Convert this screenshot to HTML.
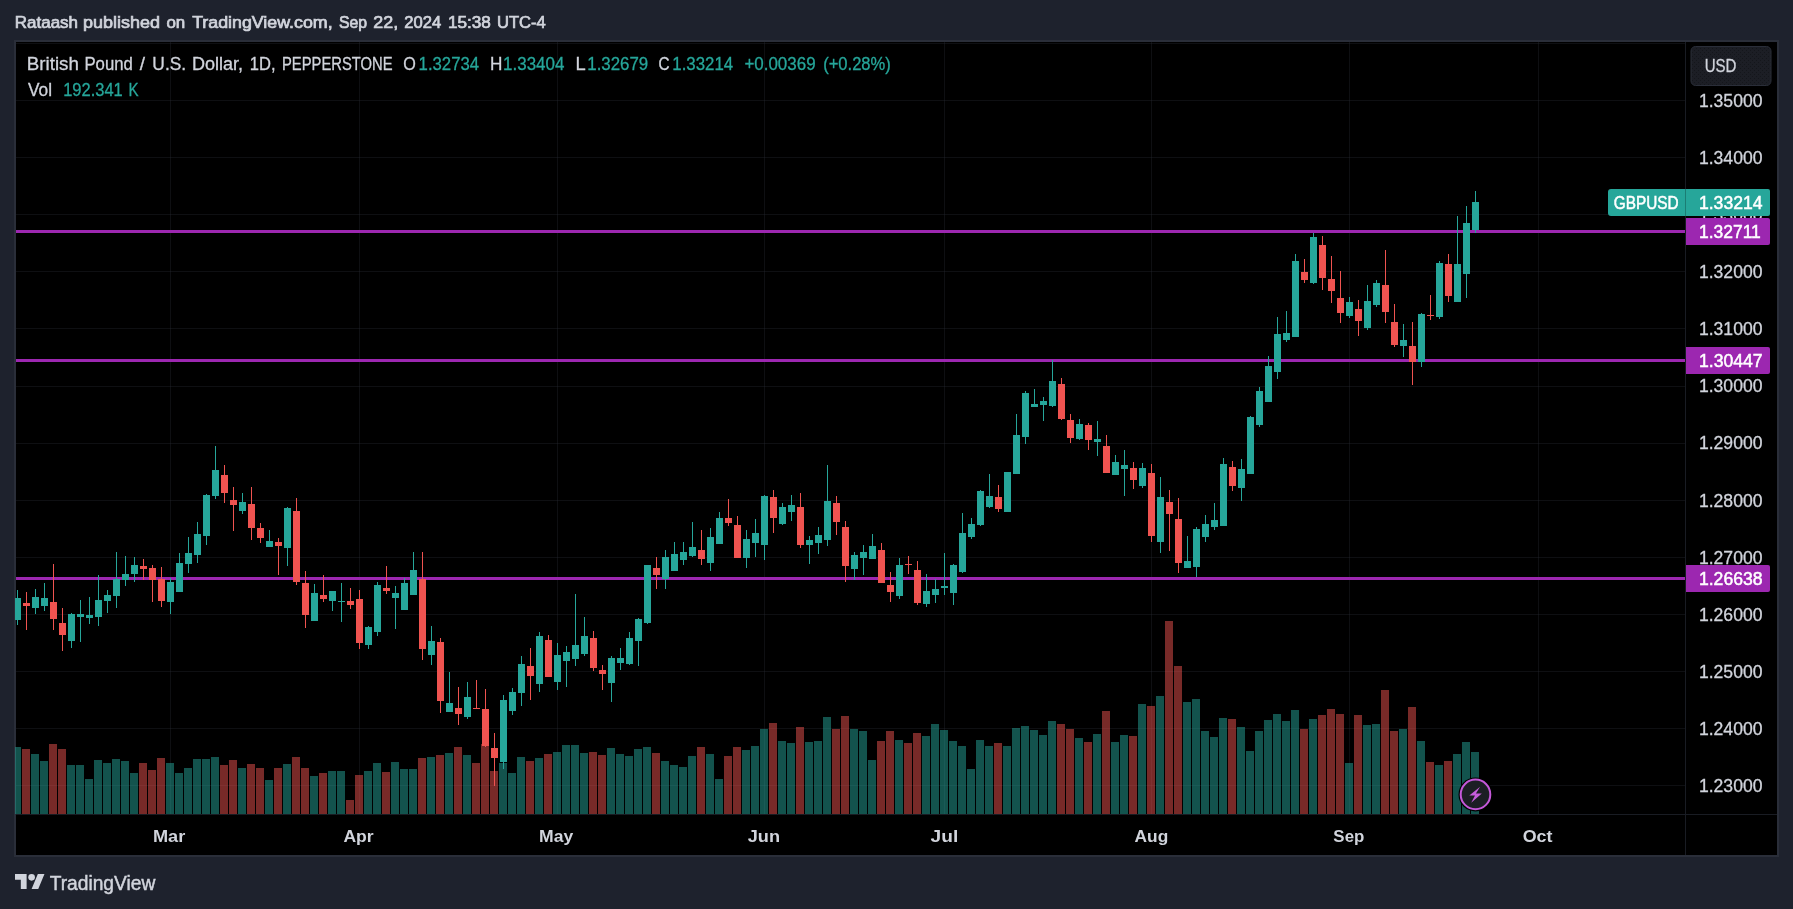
<!DOCTYPE html>
<html><head><meta charset="utf-8"><title>GBPUSD chart</title>
<style>html,body{margin:0;padding:0;background:#1e222d;width:1793px;height:909px;overflow:hidden}</style>
</head><body>
<svg width="1793" height="909" viewBox="0 0 1793 909" style="display:block;position:absolute;left:0;top:0;will-change:transform;transform:translateZ(0)" font-family="'Liberation Sans', Arial, sans-serif">
<rect x="0" y="0" width="1793" height="909" fill="#1e222d"/>
<rect x="14" y="40" width="1765" height="817" fill="#2a2e39" shape-rendering="crispEdges"/>
<rect x="16" y="42" width="1761" height="813" fill="#000" shape-rendering="crispEdges"/>
<g shape-rendering="crispEdges">
<rect x="16" y="43" width="1669" height="1" fill="#2a2e39" opacity="0.32"/>
<rect x="16" y="100" width="1669" height="1" fill="#2a2e39" opacity="0.32"/>
<rect x="16" y="157" width="1669" height="1" fill="#2a2e39" opacity="0.32"/>
<rect x="16" y="214" width="1669" height="1" fill="#2a2e39" opacity="0.32"/>
<rect x="16" y="271" width="1669" height="1" fill="#2a2e39" opacity="0.32"/>
<rect x="16" y="328" width="1669" height="1" fill="#2a2e39" opacity="0.32"/>
<rect x="16" y="386" width="1669" height="1" fill="#2a2e39" opacity="0.32"/>
<rect x="16" y="443" width="1669" height="1" fill="#2a2e39" opacity="0.32"/>
<rect x="16" y="500" width="1669" height="1" fill="#2a2e39" opacity="0.32"/>
<rect x="16" y="557" width="1669" height="1" fill="#2a2e39" opacity="0.32"/>
<rect x="16" y="614" width="1669" height="1" fill="#2a2e39" opacity="0.32"/>
<rect x="16" y="671" width="1669" height="1" fill="#2a2e39" opacity="0.32"/>
<rect x="16" y="728" width="1669" height="1" fill="#2a2e39" opacity="0.32"/>
<rect x="16" y="785" width="1669" height="1" fill="#2a2e39" opacity="0.32"/>
<rect x="170" y="42" width="1" height="772" fill="#2a2e39" opacity="0.32"/>
<rect x="359" y="42" width="1" height="772" fill="#2a2e39" opacity="0.32"/>
<rect x="557" y="42" width="1" height="772" fill="#2a2e39" opacity="0.32"/>
<rect x="764" y="42" width="1" height="772" fill="#2a2e39" opacity="0.32"/>
<rect x="944" y="42" width="1" height="772" fill="#2a2e39" opacity="0.32"/>
<rect x="1151" y="42" width="1" height="772" fill="#2a2e39" opacity="0.32"/>
<rect x="1349" y="42" width="1" height="772" fill="#2a2e39" opacity="0.32"/>
<rect x="1538" y="42" width="1" height="772" fill="#2a2e39" opacity="0.32"/>
<rect x="15" y="747" width="6" height="67" fill="#26a69a" fill-opacity="0.5"/>
<rect x="22" y="749" width="8" height="65" fill="#ef5350" fill-opacity="0.5"/>
<rect x="31" y="754" width="8" height="60" fill="#26a69a" fill-opacity="0.5"/>
<rect x="40" y="761" width="8" height="53" fill="#26a69a" fill-opacity="0.5"/>
<rect x="49" y="744" width="8" height="70" fill="#ef5350" fill-opacity="0.5"/>
<rect x="58" y="749" width="8" height="65" fill="#ef5350" fill-opacity="0.5"/>
<rect x="67" y="765" width="8" height="49" fill="#26a69a" fill-opacity="0.5"/>
<rect x="76" y="765" width="8" height="49" fill="#26a69a" fill-opacity="0.5"/>
<rect x="85" y="779" width="8" height="35" fill="#26a69a" fill-opacity="0.5"/>
<rect x="94" y="760" width="8" height="54" fill="#26a69a" fill-opacity="0.5"/>
<rect x="103" y="763" width="8" height="51" fill="#26a69a" fill-opacity="0.5"/>
<rect x="112" y="759" width="8" height="55" fill="#26a69a" fill-opacity="0.5"/>
<rect x="121" y="761" width="8" height="53" fill="#26a69a" fill-opacity="0.5"/>
<rect x="130" y="773" width="8" height="41" fill="#26a69a" fill-opacity="0.5"/>
<rect x="139" y="763" width="8" height="51" fill="#ef5350" fill-opacity="0.5"/>
<rect x="148" y="770" width="8" height="44" fill="#ef5350" fill-opacity="0.5"/>
<rect x="157" y="758" width="8" height="56" fill="#ef5350" fill-opacity="0.5"/>
<rect x="166" y="763" width="8" height="51" fill="#26a69a" fill-opacity="0.5"/>
<rect x="175" y="773" width="8" height="41" fill="#26a69a" fill-opacity="0.5"/>
<rect x="184" y="768" width="8" height="46" fill="#26a69a" fill-opacity="0.5"/>
<rect x="193" y="759" width="8" height="55" fill="#26a69a" fill-opacity="0.5"/>
<rect x="202" y="759" width="8" height="55" fill="#26a69a" fill-opacity="0.5"/>
<rect x="211" y="757" width="8" height="57" fill="#26a69a" fill-opacity="0.5"/>
<rect x="220" y="765" width="8" height="49" fill="#ef5350" fill-opacity="0.5"/>
<rect x="229" y="760" width="8" height="54" fill="#ef5350" fill-opacity="0.5"/>
<rect x="238" y="768" width="8" height="46" fill="#26a69a" fill-opacity="0.5"/>
<rect x="247" y="764" width="8" height="50" fill="#ef5350" fill-opacity="0.5"/>
<rect x="256" y="768" width="8" height="46" fill="#ef5350" fill-opacity="0.5"/>
<rect x="265" y="780" width="8" height="34" fill="#26a69a" fill-opacity="0.5"/>
<rect x="274" y="768" width="8" height="46" fill="#ef5350" fill-opacity="0.5"/>
<rect x="283" y="764" width="8" height="50" fill="#26a69a" fill-opacity="0.5"/>
<rect x="292" y="757" width="8" height="57" fill="#ef5350" fill-opacity="0.5"/>
<rect x="301" y="768" width="8" height="46" fill="#ef5350" fill-opacity="0.5"/>
<rect x="310" y="776" width="8" height="38" fill="#26a69a" fill-opacity="0.5"/>
<rect x="319" y="773" width="8" height="41" fill="#ef5350" fill-opacity="0.5"/>
<rect x="328" y="771" width="8" height="43" fill="#26a69a" fill-opacity="0.5"/>
<rect x="337" y="771" width="8" height="43" fill="#26a69a" fill-opacity="0.5"/>
<rect x="346" y="800" width="8" height="14" fill="#ef5350" fill-opacity="0.5"/>
<rect x="355" y="775" width="8" height="39" fill="#ef5350" fill-opacity="0.5"/>
<rect x="364" y="771" width="8" height="43" fill="#26a69a" fill-opacity="0.5"/>
<rect x="373" y="763" width="8" height="51" fill="#26a69a" fill-opacity="0.5"/>
<rect x="382" y="772" width="8" height="42" fill="#ef5350" fill-opacity="0.5"/>
<rect x="391" y="762" width="8" height="52" fill="#26a69a" fill-opacity="0.5"/>
<rect x="400" y="769" width="8" height="45" fill="#26a69a" fill-opacity="0.5"/>
<rect x="409" y="769" width="8" height="45" fill="#26a69a" fill-opacity="0.5"/>
<rect x="418" y="758" width="8" height="56" fill="#ef5350" fill-opacity="0.5"/>
<rect x="427" y="757" width="8" height="57" fill="#26a69a" fill-opacity="0.5"/>
<rect x="436" y="755" width="8" height="59" fill="#ef5350" fill-opacity="0.5"/>
<rect x="445" y="753" width="8" height="61" fill="#26a69a" fill-opacity="0.5"/>
<rect x="454" y="747" width="8" height="67" fill="#ef5350" fill-opacity="0.5"/>
<rect x="463" y="755" width="8" height="59" fill="#26a69a" fill-opacity="0.5"/>
<rect x="472" y="763" width="8" height="51" fill="#ef5350" fill-opacity="0.5"/>
<rect x="481" y="744" width="8" height="70" fill="#ef5350" fill-opacity="0.5"/>
<rect x="490" y="771" width="8" height="43" fill="#ef5350" fill-opacity="0.5"/>
<rect x="499" y="763" width="8" height="51" fill="#26a69a" fill-opacity="0.5"/>
<rect x="508" y="773" width="8" height="41" fill="#26a69a" fill-opacity="0.5"/>
<rect x="517" y="757" width="8" height="57" fill="#26a69a" fill-opacity="0.5"/>
<rect x="526" y="761" width="8" height="53" fill="#ef5350" fill-opacity="0.5"/>
<rect x="535" y="758" width="8" height="56" fill="#26a69a" fill-opacity="0.5"/>
<rect x="544" y="754" width="8" height="60" fill="#ef5350" fill-opacity="0.5"/>
<rect x="553" y="752" width="8" height="62" fill="#26a69a" fill-opacity="0.5"/>
<rect x="562" y="745" width="8" height="69" fill="#26a69a" fill-opacity="0.5"/>
<rect x="571" y="745" width="8" height="69" fill="#26a69a" fill-opacity="0.5"/>
<rect x="580" y="753" width="8" height="61" fill="#26a69a" fill-opacity="0.5"/>
<rect x="589" y="752" width="8" height="62" fill="#ef5350" fill-opacity="0.5"/>
<rect x="598" y="755" width="8" height="59" fill="#ef5350" fill-opacity="0.5"/>
<rect x="607" y="748" width="8" height="66" fill="#26a69a" fill-opacity="0.5"/>
<rect x="616" y="754" width="8" height="60" fill="#26a69a" fill-opacity="0.5"/>
<rect x="625" y="756" width="8" height="58" fill="#26a69a" fill-opacity="0.5"/>
<rect x="634" y="749" width="8" height="65" fill="#26a69a" fill-opacity="0.5"/>
<rect x="643" y="747" width="8" height="67" fill="#26a69a" fill-opacity="0.5"/>
<rect x="652" y="753" width="8" height="61" fill="#ef5350" fill-opacity="0.5"/>
<rect x="661" y="761" width="8" height="53" fill="#26a69a" fill-opacity="0.5"/>
<rect x="670" y="765" width="8" height="49" fill="#26a69a" fill-opacity="0.5"/>
<rect x="679" y="767" width="8" height="47" fill="#26a69a" fill-opacity="0.5"/>
<rect x="688" y="756" width="8" height="58" fill="#26a69a" fill-opacity="0.5"/>
<rect x="697" y="747" width="8" height="67" fill="#ef5350" fill-opacity="0.5"/>
<rect x="706" y="754" width="8" height="60" fill="#26a69a" fill-opacity="0.5"/>
<rect x="715" y="779" width="8" height="35" fill="#26a69a" fill-opacity="0.5"/>
<rect x="724" y="756" width="8" height="58" fill="#ef5350" fill-opacity="0.5"/>
<rect x="733" y="747" width="8" height="67" fill="#ef5350" fill-opacity="0.5"/>
<rect x="742" y="750" width="8" height="64" fill="#26a69a" fill-opacity="0.5"/>
<rect x="751" y="746" width="8" height="68" fill="#26a69a" fill-opacity="0.5"/>
<rect x="760" y="729" width="8" height="85" fill="#26a69a" fill-opacity="0.5"/>
<rect x="769" y="723" width="8" height="91" fill="#ef5350" fill-opacity="0.5"/>
<rect x="778" y="741" width="8" height="73" fill="#26a69a" fill-opacity="0.5"/>
<rect x="787" y="743" width="8" height="71" fill="#26a69a" fill-opacity="0.5"/>
<rect x="796" y="727" width="8" height="87" fill="#ef5350" fill-opacity="0.5"/>
<rect x="805" y="742" width="8" height="72" fill="#26a69a" fill-opacity="0.5"/>
<rect x="814" y="741" width="8" height="73" fill="#26a69a" fill-opacity="0.5"/>
<rect x="823" y="717" width="8" height="97" fill="#26a69a" fill-opacity="0.5"/>
<rect x="832" y="729" width="8" height="85" fill="#ef5350" fill-opacity="0.5"/>
<rect x="841" y="716" width="8" height="98" fill="#ef5350" fill-opacity="0.5"/>
<rect x="850" y="729" width="8" height="85" fill="#26a69a" fill-opacity="0.5"/>
<rect x="859" y="731" width="8" height="83" fill="#26a69a" fill-opacity="0.5"/>
<rect x="868" y="760" width="8" height="54" fill="#26a69a" fill-opacity="0.5"/>
<rect x="877" y="741" width="8" height="73" fill="#ef5350" fill-opacity="0.5"/>
<rect x="886" y="731" width="8" height="83" fill="#ef5350" fill-opacity="0.5"/>
<rect x="895" y="740" width="8" height="74" fill="#26a69a" fill-opacity="0.5"/>
<rect x="904" y="743" width="8" height="71" fill="#ef5350" fill-opacity="0.5"/>
<rect x="913" y="733" width="8" height="81" fill="#ef5350" fill-opacity="0.5"/>
<rect x="922" y="736" width="8" height="78" fill="#26a69a" fill-opacity="0.5"/>
<rect x="931" y="724" width="8" height="90" fill="#26a69a" fill-opacity="0.5"/>
<rect x="940" y="730" width="8" height="84" fill="#26a69a" fill-opacity="0.5"/>
<rect x="949" y="741" width="8" height="73" fill="#26a69a" fill-opacity="0.5"/>
<rect x="958" y="746" width="8" height="68" fill="#26a69a" fill-opacity="0.5"/>
<rect x="967" y="769" width="8" height="45" fill="#26a69a" fill-opacity="0.5"/>
<rect x="976" y="740" width="8" height="74" fill="#26a69a" fill-opacity="0.5"/>
<rect x="985" y="746" width="8" height="68" fill="#26a69a" fill-opacity="0.5"/>
<rect x="994" y="743" width="8" height="71" fill="#ef5350" fill-opacity="0.5"/>
<rect x="1003" y="746" width="8" height="68" fill="#26a69a" fill-opacity="0.5"/>
<rect x="1012" y="728" width="8" height="86" fill="#26a69a" fill-opacity="0.5"/>
<rect x="1021" y="726" width="8" height="88" fill="#26a69a" fill-opacity="0.5"/>
<rect x="1030" y="730" width="8" height="84" fill="#26a69a" fill-opacity="0.5"/>
<rect x="1039" y="735" width="8" height="79" fill="#26a69a" fill-opacity="0.5"/>
<rect x="1048" y="721" width="8" height="93" fill="#26a69a" fill-opacity="0.5"/>
<rect x="1057" y="724" width="8" height="90" fill="#ef5350" fill-opacity="0.5"/>
<rect x="1066" y="729" width="8" height="85" fill="#ef5350" fill-opacity="0.5"/>
<rect x="1075" y="738" width="8" height="76" fill="#26a69a" fill-opacity="0.5"/>
<rect x="1084" y="742" width="8" height="72" fill="#ef5350" fill-opacity="0.5"/>
<rect x="1093" y="734" width="8" height="80" fill="#26a69a" fill-opacity="0.5"/>
<rect x="1102" y="711" width="8" height="103" fill="#ef5350" fill-opacity="0.5"/>
<rect x="1111" y="742" width="8" height="72" fill="#26a69a" fill-opacity="0.5"/>
<rect x="1120" y="735" width="8" height="79" fill="#26a69a" fill-opacity="0.5"/>
<rect x="1129" y="736" width="8" height="78" fill="#ef5350" fill-opacity="0.5"/>
<rect x="1138" y="704" width="8" height="110" fill="#26a69a" fill-opacity="0.5"/>
<rect x="1147" y="706" width="8" height="108" fill="#ef5350" fill-opacity="0.5"/>
<rect x="1156" y="696" width="8" height="118" fill="#26a69a" fill-opacity="0.5"/>
<rect x="1165" y="621" width="8" height="193" fill="#ef5350" fill-opacity="0.5"/>
<rect x="1174" y="666" width="8" height="148" fill="#ef5350" fill-opacity="0.5"/>
<rect x="1183" y="702" width="8" height="112" fill="#26a69a" fill-opacity="0.5"/>
<rect x="1192" y="699" width="8" height="115" fill="#26a69a" fill-opacity="0.5"/>
<rect x="1201" y="731" width="8" height="83" fill="#26a69a" fill-opacity="0.5"/>
<rect x="1210" y="737" width="8" height="77" fill="#26a69a" fill-opacity="0.5"/>
<rect x="1219" y="718" width="8" height="96" fill="#26a69a" fill-opacity="0.5"/>
<rect x="1228" y="719" width="8" height="95" fill="#ef5350" fill-opacity="0.5"/>
<rect x="1237" y="727" width="8" height="87" fill="#26a69a" fill-opacity="0.5"/>
<rect x="1246" y="751" width="8" height="63" fill="#26a69a" fill-opacity="0.5"/>
<rect x="1255" y="731" width="8" height="83" fill="#26a69a" fill-opacity="0.5"/>
<rect x="1264" y="720" width="8" height="94" fill="#26a69a" fill-opacity="0.5"/>
<rect x="1273" y="714" width="8" height="100" fill="#26a69a" fill-opacity="0.5"/>
<rect x="1282" y="721" width="8" height="93" fill="#26a69a" fill-opacity="0.5"/>
<rect x="1291" y="710" width="8" height="104" fill="#26a69a" fill-opacity="0.5"/>
<rect x="1300" y="729" width="8" height="85" fill="#ef5350" fill-opacity="0.5"/>
<rect x="1309" y="719" width="8" height="95" fill="#26a69a" fill-opacity="0.5"/>
<rect x="1318" y="715" width="8" height="99" fill="#ef5350" fill-opacity="0.5"/>
<rect x="1327" y="709" width="8" height="105" fill="#ef5350" fill-opacity="0.5"/>
<rect x="1336" y="714" width="8" height="100" fill="#ef5350" fill-opacity="0.5"/>
<rect x="1345" y="763" width="8" height="51" fill="#26a69a" fill-opacity="0.5"/>
<rect x="1354" y="715" width="8" height="99" fill="#ef5350" fill-opacity="0.5"/>
<rect x="1363" y="725" width="8" height="89" fill="#26a69a" fill-opacity="0.5"/>
<rect x="1372" y="724" width="8" height="90" fill="#26a69a" fill-opacity="0.5"/>
<rect x="1381" y="690" width="8" height="124" fill="#ef5350" fill-opacity="0.5"/>
<rect x="1390" y="731" width="8" height="83" fill="#ef5350" fill-opacity="0.5"/>
<rect x="1399" y="729" width="8" height="85" fill="#26a69a" fill-opacity="0.5"/>
<rect x="1408" y="707" width="8" height="107" fill="#ef5350" fill-opacity="0.5"/>
<rect x="1417" y="741" width="8" height="73" fill="#26a69a" fill-opacity="0.5"/>
<rect x="1426" y="762" width="8" height="52" fill="#ef5350" fill-opacity="0.5"/>
<rect x="1435" y="765" width="8" height="49" fill="#26a69a" fill-opacity="0.5"/>
<rect x="1444" y="761" width="8" height="53" fill="#ef5350" fill-opacity="0.5"/>
<rect x="1453" y="754" width="8" height="60" fill="#26a69a" fill-opacity="0.5"/>
<rect x="1462" y="742" width="8" height="72" fill="#26a69a" fill-opacity="0.5"/>
<rect x="1471" y="752" width="8" height="62" fill="#26a69a" fill-opacity="0.5"/>
<rect x="16" y="230" width="1669" height="3" fill="#9c27b0"/>
<rect x="16" y="359" width="1669" height="3" fill="#9c27b0"/>
<rect x="16" y="577" width="1669" height="3" fill="#9c27b0"/>
<rect x="17" y="590" width="1" height="35" fill="#26a69a"/>
<rect x="15" y="598" width="6" height="22" fill="#26a69a"/>
<rect x="26" y="592" width="1" height="38" fill="#ef5350"/>
<rect x="23" y="603" width="7" height="3" fill="#ef5350"/>
<rect x="35" y="589" width="1" height="25" fill="#26a69a"/>
<rect x="32" y="597" width="7" height="11" fill="#26a69a"/>
<rect x="44" y="583" width="1" height="28" fill="#26a69a"/>
<rect x="41" y="598" width="7" height="8" fill="#26a69a"/>
<rect x="53" y="564" width="1" height="66" fill="#ef5350"/>
<rect x="50" y="602" width="7" height="17" fill="#ef5350"/>
<rect x="62" y="608" width="1" height="43" fill="#ef5350"/>
<rect x="59" y="623" width="7" height="12" fill="#ef5350"/>
<rect x="71" y="613" width="1" height="35" fill="#26a69a"/>
<rect x="68" y="614" width="7" height="27" fill="#26a69a"/>
<rect x="80" y="600" width="1" height="42" fill="#26a69a"/>
<rect x="77" y="614" width="7" height="3" fill="#26a69a"/>
<rect x="89" y="597" width="1" height="27" fill="#26a69a"/>
<rect x="86" y="615" width="7" height="3" fill="#26a69a"/>
<rect x="98" y="575" width="1" height="51" fill="#26a69a"/>
<rect x="95" y="600" width="7" height="17" fill="#26a69a"/>
<rect x="107" y="590" width="1" height="23" fill="#26a69a"/>
<rect x="104" y="595" width="7" height="6" fill="#26a69a"/>
<rect x="116" y="552" width="1" height="56" fill="#26a69a"/>
<rect x="113" y="579" width="7" height="17" fill="#26a69a"/>
<rect x="125" y="556" width="1" height="30" fill="#26a69a"/>
<rect x="122" y="574" width="7" height="6" fill="#26a69a"/>
<rect x="134" y="557" width="1" height="25" fill="#26a69a"/>
<rect x="131" y="565" width="7" height="9" fill="#26a69a"/>
<rect x="143" y="559" width="1" height="21" fill="#ef5350"/>
<rect x="140" y="566" width="7" height="3" fill="#ef5350"/>
<rect x="152" y="565" width="1" height="37" fill="#ef5350"/>
<rect x="149" y="568" width="7" height="12" fill="#ef5350"/>
<rect x="161" y="567" width="1" height="40" fill="#ef5350"/>
<rect x="158" y="579" width="7" height="22" fill="#ef5350"/>
<rect x="170" y="578" width="1" height="36" fill="#26a69a"/>
<rect x="167" y="582" width="7" height="20" fill="#26a69a"/>
<rect x="179" y="553" width="1" height="39" fill="#26a69a"/>
<rect x="176" y="563" width="7" height="29" fill="#26a69a"/>
<rect x="188" y="537" width="1" height="36" fill="#26a69a"/>
<rect x="185" y="553" width="7" height="11" fill="#26a69a"/>
<rect x="197" y="522" width="1" height="41" fill="#26a69a"/>
<rect x="194" y="534" width="7" height="21" fill="#26a69a"/>
<rect x="206" y="494" width="1" height="51" fill="#26a69a"/>
<rect x="203" y="495" width="7" height="41" fill="#26a69a"/>
<rect x="215" y="446" width="1" height="53" fill="#26a69a"/>
<rect x="212" y="470" width="7" height="26" fill="#26a69a"/>
<rect x="224" y="465" width="1" height="38" fill="#ef5350"/>
<rect x="221" y="475" width="7" height="18" fill="#ef5350"/>
<rect x="233" y="487" width="1" height="44" fill="#ef5350"/>
<rect x="230" y="500" width="7" height="5" fill="#ef5350"/>
<rect x="242" y="493" width="1" height="21" fill="#26a69a"/>
<rect x="239" y="502" width="7" height="9" fill="#26a69a"/>
<rect x="251" y="487" width="1" height="53" fill="#ef5350"/>
<rect x="248" y="504" width="7" height="24" fill="#ef5350"/>
<rect x="260" y="523" width="1" height="20" fill="#ef5350"/>
<rect x="257" y="528" width="7" height="10" fill="#ef5350"/>
<rect x="269" y="530" width="1" height="17" fill="#26a69a"/>
<rect x="266" y="541" width="7" height="6" fill="#26a69a"/>
<rect x="278" y="538" width="1" height="37" fill="#ef5350"/>
<rect x="275" y="542" width="7" height="4" fill="#ef5350"/>
<rect x="287" y="507" width="1" height="59" fill="#26a69a"/>
<rect x="284" y="508" width="7" height="40" fill="#26a69a"/>
<rect x="296" y="498" width="1" height="87" fill="#ef5350"/>
<rect x="293" y="511" width="7" height="71" fill="#ef5350"/>
<rect x="305" y="571" width="1" height="57" fill="#ef5350"/>
<rect x="302" y="583" width="7" height="32" fill="#ef5350"/>
<rect x="314" y="584" width="1" height="37" fill="#26a69a"/>
<rect x="311" y="593" width="7" height="28" fill="#26a69a"/>
<rect x="323" y="575" width="1" height="27" fill="#ef5350"/>
<rect x="320" y="595" width="7" height="4" fill="#ef5350"/>
<rect x="332" y="591" width="1" height="20" fill="#26a69a"/>
<rect x="329" y="591" width="7" height="10" fill="#26a69a"/>
<rect x="341" y="583" width="1" height="39" fill="#26a69a"/>
<rect x="338" y="601" width="7" height="1" fill="#26a69a"/>
<rect x="350" y="588" width="1" height="21" fill="#ef5350"/>
<rect x="347" y="601" width="7" height="4" fill="#ef5350"/>
<rect x="359" y="590" width="1" height="59" fill="#ef5350"/>
<rect x="356" y="599" width="7" height="44" fill="#ef5350"/>
<rect x="368" y="626" width="1" height="23" fill="#26a69a"/>
<rect x="365" y="627" width="7" height="18" fill="#26a69a"/>
<rect x="377" y="582" width="1" height="54" fill="#26a69a"/>
<rect x="374" y="585" width="7" height="47" fill="#26a69a"/>
<rect x="386" y="566" width="1" height="28" fill="#ef5350"/>
<rect x="383" y="588" width="7" height="3" fill="#ef5350"/>
<rect x="395" y="586" width="1" height="43" fill="#26a69a"/>
<rect x="392" y="593" width="7" height="5" fill="#26a69a"/>
<rect x="404" y="578" width="1" height="32" fill="#26a69a"/>
<rect x="401" y="583" width="7" height="27" fill="#26a69a"/>
<rect x="413" y="552" width="1" height="43" fill="#26a69a"/>
<rect x="410" y="570" width="7" height="25" fill="#26a69a"/>
<rect x="422" y="552" width="1" height="108" fill="#ef5350"/>
<rect x="419" y="579" width="7" height="70" fill="#ef5350"/>
<rect x="431" y="626" width="1" height="39" fill="#26a69a"/>
<rect x="428" y="641" width="7" height="14" fill="#26a69a"/>
<rect x="440" y="638" width="1" height="75" fill="#ef5350"/>
<rect x="437" y="642" width="7" height="59" fill="#ef5350"/>
<rect x="449" y="672" width="1" height="40" fill="#26a69a"/>
<rect x="446" y="703" width="7" height="9" fill="#26a69a"/>
<rect x="458" y="687" width="1" height="38" fill="#ef5350"/>
<rect x="455" y="708" width="7" height="6" fill="#ef5350"/>
<rect x="467" y="682" width="1" height="37" fill="#26a69a"/>
<rect x="464" y="697" width="7" height="20" fill="#26a69a"/>
<rect x="476" y="680" width="1" height="29" fill="#ef5350"/>
<rect x="473" y="708" width="7" height="1" fill="#ef5350"/>
<rect x="485" y="689" width="1" height="58" fill="#ef5350"/>
<rect x="482" y="709" width="7" height="37" fill="#ef5350"/>
<rect x="494" y="733" width="1" height="53" fill="#ef5350"/>
<rect x="491" y="748" width="7" height="10" fill="#ef5350"/>
<rect x="503" y="695" width="1" height="74" fill="#26a69a"/>
<rect x="500" y="700" width="7" height="62" fill="#26a69a"/>
<rect x="512" y="688" width="1" height="27" fill="#26a69a"/>
<rect x="509" y="692" width="7" height="19" fill="#26a69a"/>
<rect x="521" y="656" width="1" height="50" fill="#26a69a"/>
<rect x="518" y="664" width="7" height="29" fill="#26a69a"/>
<rect x="530" y="648" width="1" height="52" fill="#ef5350"/>
<rect x="527" y="666" width="7" height="10" fill="#ef5350"/>
<rect x="539" y="632" width="1" height="60" fill="#26a69a"/>
<rect x="536" y="636" width="7" height="48" fill="#26a69a"/>
<rect x="548" y="635" width="1" height="42" fill="#ef5350"/>
<rect x="545" y="640" width="7" height="37" fill="#ef5350"/>
<rect x="557" y="643" width="1" height="47" fill="#26a69a"/>
<rect x="554" y="655" width="7" height="27" fill="#26a69a"/>
<rect x="566" y="646" width="1" height="41" fill="#26a69a"/>
<rect x="563" y="652" width="7" height="9" fill="#26a69a"/>
<rect x="575" y="594" width="1" height="72" fill="#26a69a"/>
<rect x="572" y="645" width="7" height="14" fill="#26a69a"/>
<rect x="584" y="617" width="1" height="39" fill="#26a69a"/>
<rect x="581" y="636" width="7" height="18" fill="#26a69a"/>
<rect x="593" y="631" width="1" height="40" fill="#ef5350"/>
<rect x="590" y="638" width="7" height="30" fill="#ef5350"/>
<rect x="602" y="665" width="1" height="25" fill="#ef5350"/>
<rect x="599" y="670" width="7" height="4" fill="#ef5350"/>
<rect x="611" y="656" width="1" height="46" fill="#26a69a"/>
<rect x="608" y="658" width="7" height="25" fill="#26a69a"/>
<rect x="620" y="648" width="1" height="22" fill="#26a69a"/>
<rect x="617" y="658" width="7" height="5" fill="#26a69a"/>
<rect x="629" y="632" width="1" height="33" fill="#26a69a"/>
<rect x="626" y="638" width="7" height="26" fill="#26a69a"/>
<rect x="638" y="618" width="1" height="48" fill="#26a69a"/>
<rect x="635" y="619" width="7" height="22" fill="#26a69a"/>
<rect x="647" y="565" width="1" height="59" fill="#26a69a"/>
<rect x="644" y="565" width="7" height="58" fill="#26a69a"/>
<rect x="656" y="557" width="1" height="32" fill="#ef5350"/>
<rect x="653" y="568" width="7" height="7" fill="#ef5350"/>
<rect x="665" y="550" width="1" height="39" fill="#26a69a"/>
<rect x="662" y="557" width="7" height="22" fill="#26a69a"/>
<rect x="674" y="542" width="1" height="29" fill="#26a69a"/>
<rect x="671" y="554" width="7" height="17" fill="#26a69a"/>
<rect x="683" y="542" width="1" height="23" fill="#26a69a"/>
<rect x="680" y="552" width="7" height="8" fill="#26a69a"/>
<rect x="692" y="522" width="1" height="35" fill="#26a69a"/>
<rect x="689" y="547" width="7" height="9" fill="#26a69a"/>
<rect x="701" y="530" width="1" height="35" fill="#ef5350"/>
<rect x="698" y="550" width="7" height="9" fill="#ef5350"/>
<rect x="710" y="528" width="1" height="43" fill="#26a69a"/>
<rect x="707" y="537" width="7" height="26" fill="#26a69a"/>
<rect x="719" y="512" width="1" height="32" fill="#26a69a"/>
<rect x="716" y="518" width="7" height="26" fill="#26a69a"/>
<rect x="728" y="499" width="1" height="27" fill="#ef5350"/>
<rect x="725" y="518" width="7" height="5" fill="#ef5350"/>
<rect x="737" y="516" width="1" height="42" fill="#ef5350"/>
<rect x="734" y="525" width="7" height="33" fill="#ef5350"/>
<rect x="746" y="530" width="1" height="38" fill="#26a69a"/>
<rect x="743" y="539" width="7" height="19" fill="#26a69a"/>
<rect x="755" y="519" width="1" height="38" fill="#26a69a"/>
<rect x="752" y="533" width="7" height="10" fill="#26a69a"/>
<rect x="764" y="495" width="1" height="65" fill="#26a69a"/>
<rect x="761" y="496" width="7" height="49" fill="#26a69a"/>
<rect x="773" y="490" width="1" height="43" fill="#ef5350"/>
<rect x="770" y="497" width="7" height="21" fill="#ef5350"/>
<rect x="782" y="503" width="1" height="22" fill="#26a69a"/>
<rect x="779" y="507" width="7" height="17" fill="#26a69a"/>
<rect x="791" y="495" width="1" height="26" fill="#26a69a"/>
<rect x="788" y="505" width="7" height="7" fill="#26a69a"/>
<rect x="800" y="493" width="1" height="55" fill="#ef5350"/>
<rect x="797" y="507" width="7" height="38" fill="#ef5350"/>
<rect x="809" y="536" width="1" height="28" fill="#26a69a"/>
<rect x="806" y="540" width="7" height="5" fill="#26a69a"/>
<rect x="818" y="527" width="1" height="27" fill="#26a69a"/>
<rect x="815" y="535" width="7" height="8" fill="#26a69a"/>
<rect x="827" y="465" width="1" height="81" fill="#26a69a"/>
<rect x="824" y="501" width="7" height="39" fill="#26a69a"/>
<rect x="836" y="496" width="1" height="39" fill="#ef5350"/>
<rect x="833" y="503" width="7" height="19" fill="#ef5350"/>
<rect x="845" y="521" width="1" height="61" fill="#ef5350"/>
<rect x="842" y="527" width="7" height="39" fill="#ef5350"/>
<rect x="854" y="552" width="1" height="28" fill="#26a69a"/>
<rect x="851" y="555" width="7" height="14" fill="#26a69a"/>
<rect x="863" y="545" width="1" height="30" fill="#26a69a"/>
<rect x="860" y="552" width="7" height="6" fill="#26a69a"/>
<rect x="872" y="534" width="1" height="25" fill="#26a69a"/>
<rect x="869" y="546" width="7" height="13" fill="#26a69a"/>
<rect x="881" y="543" width="1" height="40" fill="#ef5350"/>
<rect x="878" y="550" width="7" height="33" fill="#ef5350"/>
<rect x="890" y="572" width="1" height="30" fill="#ef5350"/>
<rect x="887" y="585" width="7" height="7" fill="#ef5350"/>
<rect x="899" y="558" width="1" height="41" fill="#26a69a"/>
<rect x="896" y="565" width="7" height="31" fill="#26a69a"/>
<rect x="908" y="556" width="1" height="18" fill="#ef5350"/>
<rect x="905" y="564" width="7" height="1" fill="#ef5350"/>
<rect x="917" y="561" width="1" height="44" fill="#ef5350"/>
<rect x="914" y="570" width="7" height="33" fill="#ef5350"/>
<rect x="926" y="574" width="1" height="33" fill="#26a69a"/>
<rect x="923" y="591" width="7" height="13" fill="#26a69a"/>
<rect x="935" y="579" width="1" height="24" fill="#26a69a"/>
<rect x="932" y="589" width="7" height="6" fill="#26a69a"/>
<rect x="944" y="553" width="1" height="42" fill="#26a69a"/>
<rect x="941" y="586" width="7" height="2" fill="#26a69a"/>
<rect x="953" y="564" width="1" height="41" fill="#26a69a"/>
<rect x="950" y="565" width="7" height="28" fill="#26a69a"/>
<rect x="962" y="513" width="1" height="60" fill="#26a69a"/>
<rect x="959" y="533" width="7" height="39" fill="#26a69a"/>
<rect x="971" y="518" width="1" height="21" fill="#26a69a"/>
<rect x="968" y="524" width="7" height="13" fill="#26a69a"/>
<rect x="980" y="490" width="1" height="36" fill="#26a69a"/>
<rect x="977" y="491" width="7" height="34" fill="#26a69a"/>
<rect x="989" y="474" width="1" height="34" fill="#26a69a"/>
<rect x="986" y="496" width="7" height="11" fill="#26a69a"/>
<rect x="998" y="485" width="1" height="27" fill="#ef5350"/>
<rect x="995" y="497" width="7" height="12" fill="#ef5350"/>
<rect x="1007" y="472" width="1" height="40" fill="#26a69a"/>
<rect x="1004" y="472" width="7" height="40" fill="#26a69a"/>
<rect x="1016" y="414" width="1" height="60" fill="#26a69a"/>
<rect x="1013" y="435" width="7" height="39" fill="#26a69a"/>
<rect x="1025" y="391" width="1" height="53" fill="#26a69a"/>
<rect x="1022" y="393" width="7" height="44" fill="#26a69a"/>
<rect x="1034" y="389" width="1" height="18" fill="#26a69a"/>
<rect x="1031" y="404" width="7" height="3" fill="#26a69a"/>
<rect x="1043" y="397" width="1" height="24" fill="#26a69a"/>
<rect x="1040" y="401" width="7" height="4" fill="#26a69a"/>
<rect x="1052" y="360" width="1" height="47" fill="#26a69a"/>
<rect x="1049" y="381" width="7" height="25" fill="#26a69a"/>
<rect x="1061" y="378" width="1" height="42" fill="#ef5350"/>
<rect x="1058" y="384" width="7" height="35" fill="#ef5350"/>
<rect x="1070" y="414" width="1" height="29" fill="#ef5350"/>
<rect x="1067" y="420" width="7" height="18" fill="#ef5350"/>
<rect x="1079" y="419" width="1" height="21" fill="#26a69a"/>
<rect x="1076" y="424" width="7" height="15" fill="#26a69a"/>
<rect x="1088" y="423" width="1" height="27" fill="#ef5350"/>
<rect x="1085" y="425" width="7" height="15" fill="#ef5350"/>
<rect x="1097" y="421" width="1" height="35" fill="#26a69a"/>
<rect x="1094" y="439" width="7" height="3" fill="#26a69a"/>
<rect x="1106" y="435" width="1" height="38" fill="#ef5350"/>
<rect x="1103" y="446" width="7" height="27" fill="#ef5350"/>
<rect x="1115" y="455" width="1" height="20" fill="#26a69a"/>
<rect x="1112" y="462" width="7" height="13" fill="#26a69a"/>
<rect x="1124" y="450" width="1" height="46" fill="#26a69a"/>
<rect x="1121" y="465" width="7" height="4" fill="#26a69a"/>
<rect x="1133" y="462" width="1" height="27" fill="#ef5350"/>
<rect x="1130" y="468" width="7" height="12" fill="#ef5350"/>
<rect x="1142" y="463" width="1" height="25" fill="#26a69a"/>
<rect x="1139" y="468" width="7" height="18" fill="#26a69a"/>
<rect x="1151" y="464" width="1" height="78" fill="#ef5350"/>
<rect x="1148" y="473" width="7" height="63" fill="#ef5350"/>
<rect x="1160" y="477" width="1" height="76" fill="#26a69a"/>
<rect x="1157" y="497" width="7" height="45" fill="#26a69a"/>
<rect x="1169" y="490" width="1" height="61" fill="#ef5350"/>
<rect x="1166" y="502" width="7" height="12" fill="#ef5350"/>
<rect x="1178" y="498" width="1" height="75" fill="#ef5350"/>
<rect x="1175" y="519" width="7" height="44" fill="#ef5350"/>
<rect x="1187" y="536" width="1" height="32" fill="#26a69a"/>
<rect x="1184" y="561" width="7" height="7" fill="#26a69a"/>
<rect x="1196" y="527" width="1" height="50" fill="#26a69a"/>
<rect x="1193" y="529" width="7" height="38" fill="#26a69a"/>
<rect x="1205" y="515" width="1" height="27" fill="#26a69a"/>
<rect x="1202" y="524" width="7" height="13" fill="#26a69a"/>
<rect x="1214" y="503" width="1" height="27" fill="#26a69a"/>
<rect x="1211" y="520" width="7" height="7" fill="#26a69a"/>
<rect x="1223" y="458" width="1" height="68" fill="#26a69a"/>
<rect x="1220" y="464" width="7" height="62" fill="#26a69a"/>
<rect x="1232" y="461" width="1" height="30" fill="#ef5350"/>
<rect x="1229" y="467" width="7" height="19" fill="#ef5350"/>
<rect x="1241" y="459" width="1" height="42" fill="#26a69a"/>
<rect x="1238" y="469" width="7" height="19" fill="#26a69a"/>
<rect x="1250" y="416" width="1" height="58" fill="#26a69a"/>
<rect x="1247" y="417" width="7" height="57" fill="#26a69a"/>
<rect x="1259" y="387" width="1" height="40" fill="#26a69a"/>
<rect x="1256" y="391" width="7" height="34" fill="#26a69a"/>
<rect x="1268" y="356" width="1" height="46" fill="#26a69a"/>
<rect x="1265" y="366" width="7" height="36" fill="#26a69a"/>
<rect x="1277" y="317" width="1" height="62" fill="#26a69a"/>
<rect x="1274" y="334" width="7" height="38" fill="#26a69a"/>
<rect x="1286" y="311" width="1" height="31" fill="#26a69a"/>
<rect x="1283" y="333" width="7" height="7" fill="#26a69a"/>
<rect x="1295" y="254" width="1" height="83" fill="#26a69a"/>
<rect x="1292" y="261" width="7" height="76" fill="#26a69a"/>
<rect x="1304" y="259" width="1" height="24" fill="#ef5350"/>
<rect x="1301" y="272" width="7" height="8" fill="#ef5350"/>
<rect x="1313" y="233" width="1" height="51" fill="#26a69a"/>
<rect x="1310" y="237" width="7" height="46" fill="#26a69a"/>
<rect x="1322" y="236" width="1" height="54" fill="#ef5350"/>
<rect x="1319" y="245" width="7" height="33" fill="#ef5350"/>
<rect x="1331" y="256" width="1" height="47" fill="#ef5350"/>
<rect x="1328" y="279" width="7" height="12" fill="#ef5350"/>
<rect x="1340" y="271" width="1" height="52" fill="#ef5350"/>
<rect x="1337" y="298" width="7" height="15" fill="#ef5350"/>
<rect x="1349" y="297" width="1" height="21" fill="#26a69a"/>
<rect x="1346" y="302" width="7" height="14" fill="#26a69a"/>
<rect x="1358" y="300" width="1" height="36" fill="#ef5350"/>
<rect x="1355" y="309" width="7" height="12" fill="#ef5350"/>
<rect x="1367" y="285" width="1" height="45" fill="#26a69a"/>
<rect x="1364" y="301" width="7" height="27" fill="#26a69a"/>
<rect x="1376" y="280" width="1" height="27" fill="#26a69a"/>
<rect x="1373" y="283" width="7" height="22" fill="#26a69a"/>
<rect x="1385" y="250" width="1" height="73" fill="#ef5350"/>
<rect x="1382" y="285" width="7" height="27" fill="#ef5350"/>
<rect x="1394" y="304" width="1" height="43" fill="#ef5350"/>
<rect x="1391" y="322" width="7" height="23" fill="#ef5350"/>
<rect x="1403" y="324" width="1" height="33" fill="#26a69a"/>
<rect x="1400" y="340" width="7" height="6" fill="#26a69a"/>
<rect x="1412" y="322" width="1" height="63" fill="#ef5350"/>
<rect x="1409" y="346" width="7" height="16" fill="#ef5350"/>
<rect x="1421" y="313" width="1" height="54" fill="#26a69a"/>
<rect x="1418" y="314" width="7" height="48" fill="#26a69a"/>
<rect x="1430" y="295" width="1" height="25" fill="#ef5350"/>
<rect x="1427" y="315" width="7" height="1" fill="#ef5350"/>
<rect x="1439" y="261" width="1" height="58" fill="#26a69a"/>
<rect x="1436" y="263" width="7" height="54" fill="#26a69a"/>
<rect x="1448" y="254" width="1" height="48" fill="#ef5350"/>
<rect x="1445" y="264" width="7" height="32" fill="#ef5350"/>
<rect x="1457" y="216" width="1" height="86" fill="#26a69a"/>
<rect x="1454" y="264" width="7" height="38" fill="#26a69a"/>
<rect x="1466" y="206" width="1" height="92" fill="#26a69a"/>
<rect x="1463" y="223" width="7" height="51" fill="#26a69a"/>
<rect x="1475" y="191" width="1" height="42" fill="#26a69a"/>
<rect x="1472" y="202" width="7" height="28" fill="#26a69a"/>
<rect x="1685" y="42" width="1" height="813" fill="#191c23"/>
<rect x="16" y="814" width="1761" height="1" fill="#191c23"/>
</g>
<text x="1698.95" y="107" font-size="17.5" fill="#d1d4dc" stroke="#d1d4dc" stroke-width="0.3" textLength="63.55" lengthAdjust="spacingAndGlyphs">1.35000</text>
<text x="1698.95" y="164" font-size="17.5" fill="#d1d4dc" stroke="#d1d4dc" stroke-width="0.3" textLength="63.55" lengthAdjust="spacingAndGlyphs">1.34000</text>
<text x="1698.95" y="221" font-size="17.5" fill="#d1d4dc" stroke="#d1d4dc" stroke-width="0.3" textLength="63.55" lengthAdjust="spacingAndGlyphs">1.33000</text>
<text x="1698.95" y="278" font-size="17.5" fill="#d1d4dc" stroke="#d1d4dc" stroke-width="0.3" textLength="63.55" lengthAdjust="spacingAndGlyphs">1.32000</text>
<text x="1698.95" y="335" font-size="17.5" fill="#d1d4dc" stroke="#d1d4dc" stroke-width="0.3" textLength="63.55" lengthAdjust="spacingAndGlyphs">1.31000</text>
<text x="1698.95" y="392" font-size="17.5" fill="#d1d4dc" stroke="#d1d4dc" stroke-width="0.3" textLength="63.55" lengthAdjust="spacingAndGlyphs">1.30000</text>
<text x="1698.95" y="449" font-size="17.5" fill="#d1d4dc" stroke="#d1d4dc" stroke-width="0.3" textLength="63.55" lengthAdjust="spacingAndGlyphs">1.29000</text>
<text x="1698.95" y="507" font-size="17.5" fill="#d1d4dc" stroke="#d1d4dc" stroke-width="0.3" textLength="63.55" lengthAdjust="spacingAndGlyphs">1.28000</text>
<text x="1698.95" y="564" font-size="17.5" fill="#d1d4dc" stroke="#d1d4dc" stroke-width="0.3" textLength="63.55" lengthAdjust="spacingAndGlyphs">1.27000</text>
<text x="1698.95" y="621" font-size="17.5" fill="#d1d4dc" stroke="#d1d4dc" stroke-width="0.3" textLength="63.55" lengthAdjust="spacingAndGlyphs">1.26000</text>
<text x="1698.95" y="678" font-size="17.5" fill="#d1d4dc" stroke="#d1d4dc" stroke-width="0.3" textLength="63.55" lengthAdjust="spacingAndGlyphs">1.25000</text>
<text x="1698.95" y="735" font-size="17.5" fill="#d1d4dc" stroke="#d1d4dc" stroke-width="0.3" textLength="63.55" lengthAdjust="spacingAndGlyphs">1.24000</text>
<text x="1698.95" y="792" font-size="17.5" fill="#d1d4dc" stroke="#d1d4dc" stroke-width="0.3" textLength="63.55" lengthAdjust="spacingAndGlyphs">1.23000</text>
<defs><pattern id="dots" x="0" y="0" width="4" height="4" patternUnits="userSpaceOnUse"><rect width="4" height="4" fill="#1c1e25"/><rect x="0" y="0" width="1" height="1" fill="#14161b"/><rect x="2" y="2" width="1" height="1" fill="#14161b"/></pattern></defs>
<rect x="1691" y="46.5" width="80" height="39" rx="4.5" fill="url(#dots)" stroke="#2a2e39" stroke-width="1"/>
<text x="1704.64" y="72" font-size="17.5" fill="#d1d4dc" stroke="#d1d4dc" stroke-width="0.3" textLength="31.77" lengthAdjust="spacingAndGlyphs">USD</text>
<path d="M1611 189H1685V216H1611a3 3 0 0 1-3-3V192a3 3 0 0 1 3-3z" fill="#26a69a"/>
<path d="M1686 189H1768a2 2 0 0 1 2 2V214a2 2 0 0 1-2 2H1686z" fill="#26a69a"/>
<rect x="1685" y="189" width="1" height="27" fill="#1b7d74" shape-rendering="crispEdges"/>
<text x="1613.81" y="209" font-size="17.5" fill="#fff" stroke="#fff" stroke-width="0.5" textLength="64.78" lengthAdjust="spacingAndGlyphs">GBPUSD</text>
<text x="1698.95" y="209" font-size="17.5" fill="#fff" stroke="#fff" stroke-width="0.5" textLength="63.64" lengthAdjust="spacingAndGlyphs">1.33214</text>
<path d="M1686 218H1768a2 2 0 0 1 2 2V243a2 2 0 0 1-2 2H1686z" fill="#9c27b0"/>
<text x="1698.96" y="238" font-size="17.5" fill="#fff" stroke="#fff" stroke-width="0.5" textLength="61.8" lengthAdjust="spacingAndGlyphs">1.32711</text>
<path d="M1686 347H1768a2 2 0 0 1 2 2V372a2 2 0 0 1-2 2H1686z" fill="#9c27b0"/>
<text x="1698.95" y="367" font-size="17.5" fill="#fff" stroke="#fff" stroke-width="0.5" textLength="63.67" lengthAdjust="spacingAndGlyphs">1.30447</text>
<path d="M1686 565H1768a2 2 0 0 1 2 2V590a2 2 0 0 1-2 2H1686z" fill="#9c27b0"/>
<text x="1698.95" y="585" font-size="17.5" fill="#fff" stroke="#fff" stroke-width="0.5" textLength="63.63" lengthAdjust="spacingAndGlyphs">1.26638</text>
<text x="152.92" y="842" font-size="16.5" fill="#d1d4dc" textLength="32.31" lengthAdjust="spacingAndGlyphs" font-weight="bold">Mar</text>
<text x="343.45" y="842" font-size="16.5" fill="#d1d4dc" textLength="30.21" lengthAdjust="spacingAndGlyphs" font-weight="bold">Apr</text>
<text x="539.05" y="842" font-size="16.5" fill="#d1d4dc" textLength="34.19" lengthAdjust="spacingAndGlyphs" font-weight="bold">May</text>
<text x="747.73" y="842" font-size="16.5" fill="#d1d4dc" textLength="32.28" lengthAdjust="spacingAndGlyphs" font-weight="bold">Jun</text>
<text x="930.61" y="842" font-size="16.5" fill="#d1d4dc" textLength="27.63" lengthAdjust="spacingAndGlyphs" font-weight="bold">Jul</text>
<text x="1134.56" y="842" font-size="16.5" fill="#d1d4dc" textLength="33.7" lengthAdjust="spacingAndGlyphs" font-weight="bold">Aug</text>
<text x="1333.39" y="842" font-size="16.5" fill="#d1d4dc" textLength="30.94" lengthAdjust="spacingAndGlyphs" font-weight="bold">Sep</text>
<text x="1522.65" y="842" font-size="16.5" fill="#d1d4dc" textLength="29.81" lengthAdjust="spacingAndGlyphs" font-weight="bold">Oct</text>
<text y="28" font-size="16.0" stroke-width="0.7"><tspan x="14.84" fill="#d1d4dc" stroke="#d1d4dc" textLength="63.15" lengthAdjust="spacingAndGlyphs">Rataash</tspan> <tspan x="83.02" fill="#d1d4dc" stroke="#d1d4dc" textLength="76.98" lengthAdjust="spacingAndGlyphs">published</tspan> <tspan x="166.48" fill="#d1d4dc" stroke="#d1d4dc" textLength="18.8" lengthAdjust="spacingAndGlyphs">on</tspan> <tspan x="192.15" fill="#d1d4dc" stroke="#d1d4dc" textLength="140.46" lengthAdjust="spacingAndGlyphs">TradingView.com,</tspan> <tspan x="339.02" fill="#d1d4dc" stroke="#d1d4dc" textLength="28.04" lengthAdjust="spacingAndGlyphs">Sep</tspan> <tspan x="373.36" fill="#d1d4dc" stroke="#d1d4dc" textLength="24.82" lengthAdjust="spacingAndGlyphs">22,</tspan> <tspan x="404.37" fill="#d1d4dc" stroke="#d1d4dc" textLength="36.87" lengthAdjust="spacingAndGlyphs">2024</tspan> <tspan x="448.0" fill="#d1d4dc" stroke="#d1d4dc" textLength="42.82" lengthAdjust="spacingAndGlyphs">15:38</tspan> <tspan x="496.92" fill="#d1d4dc" stroke="#d1d4dc" textLength="48.83" lengthAdjust="spacingAndGlyphs">UTC-4</tspan></text>
<text y="70" font-size="17.5" stroke-width="0.3"><tspan x="26.74" fill="#d1d4dc" stroke="#d1d4dc" textLength="52.13" lengthAdjust="spacingAndGlyphs">British</tspan> <tspan x="84.43" fill="#d1d4dc" stroke="#d1d4dc" textLength="48.4" lengthAdjust="spacingAndGlyphs">Pound</tspan> <tspan x="139.67" fill="#d1d4dc" stroke="#d1d4dc" textLength="5.27" lengthAdjust="spacingAndGlyphs">/</tspan> <tspan x="152.35" fill="#d1d4dc" stroke="#d1d4dc" textLength="33.79" lengthAdjust="spacingAndGlyphs">U.S.</tspan> <tspan x="191.97" fill="#d1d4dc" stroke="#d1d4dc" textLength="51.04" lengthAdjust="spacingAndGlyphs">Dollar,</tspan> <tspan x="249.79" fill="#d1d4dc" stroke="#d1d4dc" textLength="25.72" lengthAdjust="spacingAndGlyphs">1D,</tspan> <tspan x="281.96" fill="#d1d4dc" stroke="#d1d4dc" textLength="110.58" lengthAdjust="spacingAndGlyphs">PEPPERSTONE</tspan> <tspan x="403.32" fill="#d1d4dc" stroke="#d1d4dc" textLength="12.58" lengthAdjust="spacingAndGlyphs">O</tspan> <tspan x="418.58" fill="#26a69a" stroke="#26a69a" textLength="60.51" lengthAdjust="spacingAndGlyphs">1.32734</tspan> <tspan x="490.01" fill="#d1d4dc" stroke="#d1d4dc" textLength="12.39" lengthAdjust="spacingAndGlyphs">H</tspan> <tspan x="503.08" fill="#26a69a" stroke="#26a69a" textLength="61.27" lengthAdjust="spacingAndGlyphs">1.33404</tspan> <tspan x="575.51" fill="#d1d4dc" stroke="#d1d4dc" textLength="9.51" lengthAdjust="spacingAndGlyphs">L</tspan> <tspan x="587.28" fill="#26a69a" stroke="#26a69a" textLength="60.98" lengthAdjust="spacingAndGlyphs">1.32679</tspan> <tspan x="658.51" fill="#d1d4dc" stroke="#d1d4dc" textLength="11.07" lengthAdjust="spacingAndGlyphs">C</tspan> <tspan x="672.28" fill="#26a69a" stroke="#26a69a" textLength="60.92" lengthAdjust="spacingAndGlyphs">1.33214</tspan> <tspan x="744.4" fill="#26a69a" stroke="#26a69a" textLength="71.22" lengthAdjust="spacingAndGlyphs">+0.00369</tspan> <tspan x="823.16" fill="#26a69a" stroke="#26a69a" textLength="67.68" lengthAdjust="spacingAndGlyphs">(+0.28%)</tspan></text>
<text y="96" font-size="17.5" stroke-width="0.3"><tspan x="28.04" fill="#d1d4dc" stroke="#d1d4dc" textLength="24.0" lengthAdjust="spacingAndGlyphs">Vol</tspan> <tspan x="63.19" fill="#26a69a" stroke="#26a69a" textLength="59.6" lengthAdjust="spacingAndGlyphs">192.341</tspan> <tspan x="128.49" fill="#26a69a" stroke="#26a69a" textLength="10.1" lengthAdjust="spacingAndGlyphs">K</tspan></text>
<circle cx="1475.5" cy="794.4" r="17" fill="#000"/>
<circle cx="1475.5" cy="794.4" r="14.8" fill="#1c1e24" stroke="#c458d9" stroke-width="2"/>
<path d="M1480.1 786.8L1469.3 795.4H1475L1471.2 802.7L1481.8 793.5H1475.9z" fill="#c65ddb"/>
<g transform="translate(15,870.7) scale(0.83)" fill="#d1d4dc"><path d="M14 22H7V11H0V4h14v18zM28 22h-8l7.5-18h8L28 22z"/><circle cx="20" cy="8" r="4"/></g>
<text x="49.64" y="890" font-size="19.6" fill="#d1d4dc" stroke="#d1d4dc" stroke-width="0.45" textLength="105.72" lengthAdjust="spacingAndGlyphs">TradingView</text>
</svg>
</body></html>
